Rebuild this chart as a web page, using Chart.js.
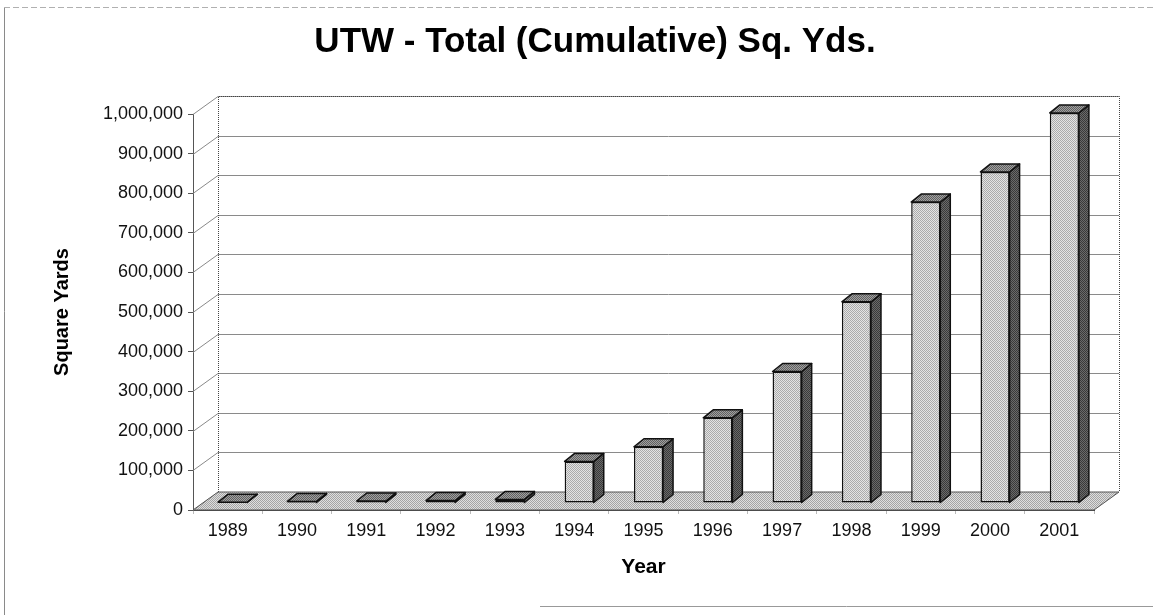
<!DOCTYPE html>
<html>
<head>
<meta charset="utf-8">
<title>UTW - Total (Cumulative) Sq. Yds.</title>
<script src="https://cdn.jsdelivr.net/npm/chart.js@4.4.1/dist/chart.umd.min.js"></script>
<style>
  html, body { margin: 0; padding: 0; background: #fff; }
  #wrap { position: relative; width: 1153px; height: 615px; }
</style>
</head>
<body>
<div id="wrap"><canvas id="utwChart"></canvas></div>
<script>
// data
const years = ['1989', '1990', '1991', '1992', '1993', '1994', '1995',
  '1996', '1997', '1998', '1999', '2000', '2001']
const totalSqYds = [2000, 4000, 5000, 6000, 9000, 105000, 142000,
  215000, 332000, 508000, 760000, 836000, 985000]
const yTickValues = [0, 100000, 200000, 300000, 400000, 500000,
  600000, 700000, 800000, 900000, 1000000]

const chartTitle = 'UTW - Total (Cumulative) Sq. Yds.'
const FONT = "'Liberation Sans', Arial, sans-serif"

// 3d look: back wall offset, bar depth position, bar depth
const WALL_DX = 25, WALL_DY = -18
const BAR_DX = 5, BAR_DY = -7
const SIDE_DX = 10, SIDE_DY = -8

// small stipple pattern, like the printed greys
function stipple(light, dark) {
  const c = document.createElement('canvas')
  c.width = 2
  c.height = 2
  const g = c.getContext('2d')
  g.fillStyle = light
  g.fillRect(0, 0, 2, 2)
  g.fillStyle = dark
  g.fillRect(0, 0, 1, 1)
  g.fillRect(1, 1, 1, 1)
  return g.createPattern(c, 'repeat')
}

const frontFill = stipple('#e4e4e4', '#ababab')
const sideFill = stipple('#6a6a6a', '#3a3a3a')
const topFill = stipple('#a0a0a0', '#606060')
const floorFill = stipple('#dedede', '#a4a4a4')

const depthPlugin = {
  id: 'depth3d',
  beforeDraw(chart) {
    const ctx = chart.ctx
    ctx.save()
    ctx.fillStyle = '#fff'
    ctx.fillRect(0, 0, chart.width, chart.height)
    // page frame
    ctx.strokeStyle = '#8a8a8a'
    ctx.lineWidth = 1
    ctx.beginPath()
    ctx.moveTo(4.5, 8)
    ctx.lineTo(4.5, chart.height)
    ctx.stroke()
    ctx.setLineDash([6, 3])
    ctx.strokeStyle = '#b0b0b0'
    ctx.beginPath()
    ctx.moveTo(4, 7.5)
    ctx.lineTo(chart.width, 7.5)
    ctx.stroke()
    ctx.setLineDash([])
    ctx.strokeStyle = '#999'
    ctx.beginPath()
    ctx.moveTo(540, 606.5)
    ctx.lineTo(chart.width, 606.5)
    ctx.stroke()
    ctx.restore()
  },
  beforeDatasetsDraw(chart) {
    const { ctx, chartArea: a, scales: { y } } = chart
    ctx.save()
    // back wall grid and the slanted ticks to it
    ctx.strokeStyle = '#8a8a8a'
    ctx.lineWidth = 1
    yTickValues.forEach(v => {
      const py = Math.round(y.getPixelForValue(v)) + 0.5
      ctx.beginPath()
      ctx.moveTo(a.left, py)
      ctx.lineTo(a.left + WALL_DX, py + WALL_DY)
      if (v > 0) ctx.lineTo(a.right + WALL_DX, py + WALL_DY)
      ctx.stroke()
    })
    // wall edges, dotted
    const wallTop = Math.round(y.getPixelForValue(yTickValues[yTickValues.length - 1])) + 0.5 + WALL_DY
    const wallBot = a.bottom + WALL_DY
    ctx.setLineDash([1, 1])
    ctx.strokeStyle = '#444'
    ctx.beginPath()
    ctx.moveTo(a.left + WALL_DX + 0.5, wallBot)
    ctx.lineTo(a.left + WALL_DX + 0.5, wallTop)
    ctx.lineTo(a.right + WALL_DX + 0.5, wallTop)
    ctx.lineTo(a.right + WALL_DX + 0.5, wallBot)
    ctx.stroke()
    // floor
    ctx.setLineDash([])
    ctx.beginPath()
    ctx.moveTo(a.left, a.bottom)
    ctx.lineTo(a.right, a.bottom)
    ctx.lineTo(a.right + WALL_DX, a.bottom + WALL_DY)
    ctx.lineTo(a.left + WALL_DX, a.bottom + WALL_DY)
    ctx.closePath()
    ctx.fillStyle = floorFill
    ctx.fill()
    ctx.strokeStyle = '#555'
    ctx.stroke()
    ctx.restore()
    // bars stand in the middle of the floor depth
    ctx.save()
    ctx.translate(BAR_DX, BAR_DY)
  },
  afterDatasetsDraw(chart) {
    const ctx = chart.ctx
    ctx.lineWidth = 1.5
    ctx.strokeStyle = '#111'
    ctx.lineJoin = 'round'
    chart.getDatasetMeta(0).data.forEach(bar => {
      const { x, y, base, width } = bar.getProps(['x', 'y', 'base', 'width'], true)
      const l = x - width / 2, r = x + width / 2
      // side face
      ctx.beginPath()
      ctx.moveTo(r, y)
      ctx.lineTo(r + SIDE_DX, y + SIDE_DY)
      ctx.lineTo(r + SIDE_DX, base + SIDE_DY)
      ctx.lineTo(r, base)
      ctx.closePath()
      ctx.fillStyle = sideFill
      ctx.fill()
      ctx.stroke()
      // top face
      ctx.beginPath()
      ctx.moveTo(l, y)
      ctx.lineTo(l + SIDE_DX, y + SIDE_DY)
      ctx.lineTo(r + SIDE_DX, y + SIDE_DY)
      ctx.lineTo(r, y)
      ctx.closePath()
      ctx.fillStyle = topFill
      ctx.fill()
      ctx.stroke()
    })
    ctx.restore()
  },
  afterDraw(chart) {
    const ctx = chart.ctx
    ctx.save()
    ctx.fillStyle = '#000'
    ctx.font = 'bold 35px ' + FONT
    ctx.textAlign = 'center'
    ctx.textBaseline = 'middle'
    ctx.fillText(chartTitle, 595, 42)
    ctx.restore()
  }
}

const ctx = document.getElementById('utwChart').getContext('2d')

new Chart(ctx, {
  type: 'bar',
  data: {
    labels: years,
    datasets: [{
      label: 'Square Yards',
      data: totalSqYds,
      backgroundColor: frontFill,
      borderColor: '#111',
      borderWidth: 1.5,
      borderSkipped: false,
      categoryPercentage: 1,
      barPercentage: 0.42,
      clip: false
    }]
  },
  options: {
    responsive: true,
    maintainAspectRatio: false,
    animation: false,
    layout: {
      padding: { top: 114, right: 59, bottom: 0, left: 0 }
    },
    plugins: {
      legend: { display: false },
      tooltip: { enabled: false },
      title: { display: false }
    },
    scales: {
      x: {
        grid: {
          display: true,
          drawOnChartArea: false,
          drawTicks: true,
          tickLength: 4,
          color: '#bbb'
        },
        border: { display: true, color: '#444' },
        ticks: {
          color: '#111',
          padding: 6,
          font: { family: FONT, size: 18 }
        },
        title: {
          display: true,
          text: 'Year',
          color: '#000',
          font: { family: FONT, size: 21, weight: 'bold' },
          padding: { top: 0, bottom: 35 }
        },
        afterFit(scale) { scale.height = 105 }
      },
      y: {
        min: 0,
        max: 1000000,
        afterBuildTicks(scale) {
          scale.ticks = yTickValues.map(v => ({ value: v }))
        },
        grid: {
          drawOnChartArea: false,
          drawTicks: true,
          tickLength: 5,
          color: '#555'
        },
        border: { display: true, color: '#555', dash: [1, 1] },
        ticks: {
          color: '#111',
          padding: 5,
          font: { family: FONT, size: 18 },
          callback: v => v.toLocaleString('en-US')
        },
        title: {
          display: true,
          text: 'Square Yards',
          color: '#000',
          font: { family: FONT, size: 20, weight: 'bold' },
          padding: { top: 50, bottom: 0 }
        },
        afterFit(scale) { scale.width = 193 }
      }
    }
  },
  plugins: [depthPlugin]
})
</script>
</body>
</html>
